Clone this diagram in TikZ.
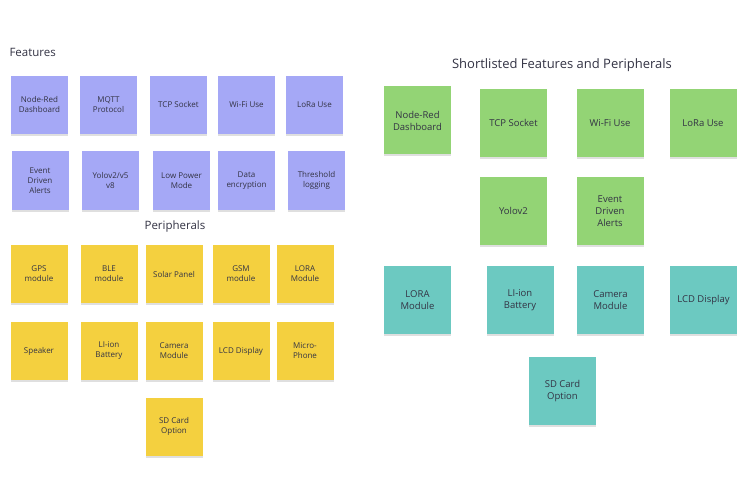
\documentclass[tikz,border=0pt]{standalone}
\usepackage{fontspec}
\setmainfont{Open Sans}
\usetikzlibrary{shadows}
\definecolor{bluen}{HTML}{A5A8F6}
\definecolor{greenn}{HTML}{93D475}
\definecolor{tealn}{HTML}{6CC9C1}
\definecolor{yellown}{HTML}{F4D03F}
\definecolor{txt}{HTML}{333344}
\begin{document}
\begin{tikzpicture}[x=1pt,y=-1pt,
  note/.style={fill=#1,inner sep=0pt,align=center,font=\fontsize{8}{10}\selectfont,text=txt,
    drop shadow={shadow xshift=0pt,shadow yshift=-2pt,opacity=0.25}},
  sq/.style={minimum width=57pt,minimum height=58pt},
  bq/.style={minimum width=67pt,minimum height=68pt,font=\fontsize{9.5}{12}\selectfont},
  ttl/.style={text=txt,anchor=west}]
\useasboundingbox (0,0) rectangle (750,500);
\fill[white] (0,0) rectangle (750,500);
\node[ttl,font=\fontsize{11.5}{13}\selectfont] (tf) at (6,52) {Features};
\node[text=txt,font=\fontsize{11.5}{13}\selectfont] (tp) at (175,227) {Peripherals};
\node[text=txt,font=\fontsize{13}{15}\selectfont] (ts) at (562,65) {Shortlisted Features and Peripherals};
% blue
\foreach \n/\x/\y/\t in {b1/39.5/105/{Node-Red\\Dashboard},b2/108.5/105/{MQTT\\Protocol},b3/178.5/105/{TCP Socket},b4/246.5/105/{Wi-Fi Use},b5/314.5/105/{LoRa Use},
 b6/40/180.5/{Event\\Driven\\Alerts},b7/110.5/180.5/{Yolov2/v5\\v8},b8/181.5/180.5/{Low Power\\Mode},b9/246.5/180.5/{Data\\encryption},b10/316.5/180.5/{Threshold\\logging}}
  \node[note=bluen,sq] (\n) at (\x,\y) {\t};
% yellow
\foreach \n/\x/\y/\t in {y1/39/274/{GPS\\module},y2/109/274/{BLE\\module},y3/174/274/{Solar Panel},y4/241/274/{GSM\\module},y5/305/274/{LORA\\Module},
 y6/39/351/{Speaker},y7/109/351/{LI-ion\\Battery},y8/174/351/{Camera\\Module},y9/241/351/{LCD Display},y10/305/351/{Micro-\\Phone},
 y11/174/426.5/{SD Card\\Option}}
  \node[note=yellown,sq] (\n) at (\x,\y) {\t};
% green
\foreach \n/\x/\y/\t in {g1/417.5/120.5/{Node-Red\\Dashboard},g2/513.5/123/{TCP Socket},g3/610/123/{Wi-Fi Use},g4/703/123/{LoRa Use},
 g5/513.5/211/{Yolov2},g6/610/211/{Event\\Driven\\Alerts}}
  \node[note=greenn,bq] (\n) at (\x,\y) {\t};
% teal
\foreach \n/\x/\y/\t in {t1/417.5/300/{LORA\\Module},t2/520/300/{LI-ion\\Battery},t3/610.5/300/{Camera\\Module},t4/703.5/300/{LCD Display},
 t5/562.5/391/{SD Card\\Option}}
  \node[note=tealn,bq] (\n) at (\x,\y) {\t};
\end{tikzpicture}
\end{document}
